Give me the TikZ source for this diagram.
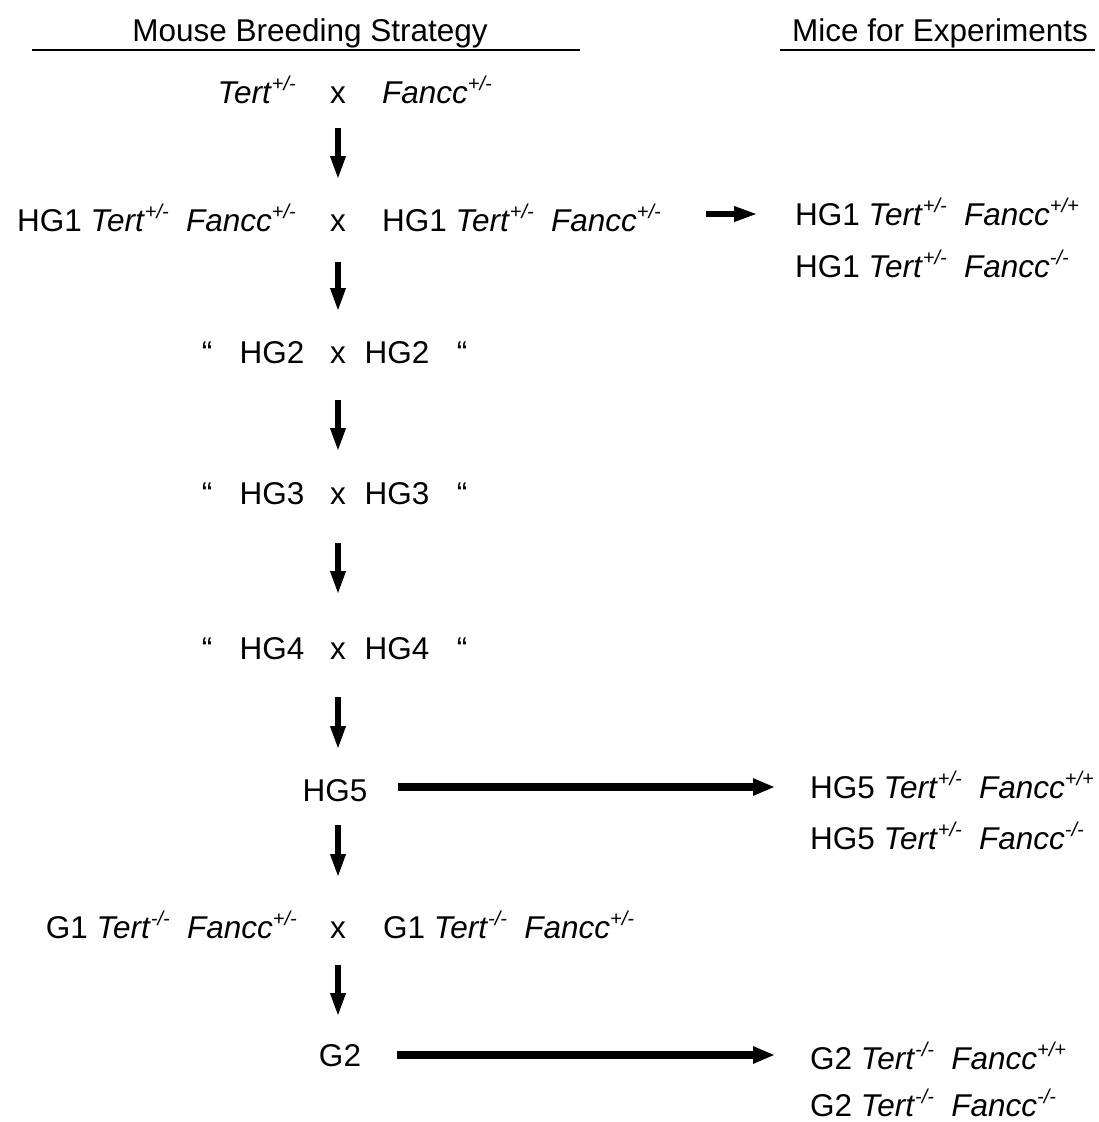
\documentclass[tikz,border=0pt]{standalone}
\usepackage{fontspec}
\setmainfont{Liberation Sans}
\usetikzlibrary{arrows.meta}
\newcommand{\gene}[2]{\textit{#1}\raisebox{0.42em}{\fontsize{20}{20}\selectfont\itshape #2}}

\begin{document}
\begin{tikzpicture}[x=1pt,y=-1pt,
    every node/.style={inner sep=0pt,text height=22.6pt,text depth=0pt,font=\fontsize{31.5}{37}\selectfont},
    varrow/.style={-{Triangle[length=24pt,width=14pt]},line width=6.5pt},
    harrow/.style={-{Triangle[length=22pt,width=16pt]},line width=8pt}]
  \useasboundingbox (0,0) rectangle (1098,1122);
  % headings
  \node (hbreed) at (310,30) {Mouse Breeding Strategy};
  \node (hmice) at (940,30) {Mice for Experiments};
  \draw[line width=2.2pt] (32,50) -- (580,50);
  \draw[line width=2.2pt] (780,50) -- (1095,50);
  % founders
  \node[anchor=east] (tert) at (296,92) {\gene{Tert}{+/-}};
  \node (x0) at (338,92) {x};
  \node[anchor=west] (fancc) at (382,92) {\gene{Fancc}{+/-}};
  % HG1
  \node[anchor=east] (hg1a) at (296,220) {HG1 \gene{Tert}{+/-}\hspace{0.55em}\gene{Fancc}{+/-}};
  \node (x1) at (338,220) {x};
  \node[anchor=west] (hg1b) at (382,220) {HG1 \gene{Tert}{+/-}\hspace{0.55em}\gene{Fancc}{+/-}};
  \node[anchor=west] (hg1c) at (795,214) {HG1 \gene{Tert}{+/-}\hspace{0.55em}\gene{Fancc}{+/+}};
  \node[anchor=west] (hg1d) at (795,266) {HG1 \gene{Tert}{+/-}\hspace{0.55em}\gene{Fancc}{-/-}};
  % HG2 to HG4
  \node (qa2) at (207,352) {``};
  \node (hga2) at (272,352) {HG2};
  \node (x2) at (338,352) {x};
  \node (hgb2) at (397,352) {HG2};
  \node (qb2) at (462,352) {``};
  \node (qa3) at (207,493) {``};
  \node (hga3) at (272,493) {HG3};
  \node (x3) at (338,493) {x};
  \node (hgb3) at (397,493) {HG3};
  \node (qb3) at (462,493) {``};
  \node (qa4) at (207,648) {``};
  \node (hga4) at (272,648) {HG4};
  \node (x4) at (338,648) {x};
  \node (hgb4) at (397,648) {HG4};
  \node (qb4) at (462,648) {``};
  % HG5
  \node (hg5) at (335,790) {HG5};
  \node[anchor=west] (hg5r) at (810,787) {HG5 \gene{Tert}{+/-}\hspace{0.55em}\gene{Fancc}{+/+}};
  \node[anchor=west] (hg5s) at (810,838) {HG5 \gene{Tert}{+/-}\hspace{0.55em}\gene{Fancc}{-/-}};
  % G1
  \node[anchor=east] (g1a) at (297,927) {G1 \gene{Tert}{-/-}\hspace{0.55em}\gene{Fancc}{+/-}};
  \node (x5) at (338,927) {x};
  \node[anchor=west] (g1b) at (383,927) {G1 \gene{Tert}{-/-}\hspace{0.55em}\gene{Fancc}{+/-}};
  % G2
  \node (g2) at (340,1055) {G2};
  \node[anchor=west] (g2r) at (810,1058) {G2 \gene{Tert}{-/-}\hspace{0.55em}\gene{Fancc}{+/+}};
  \node[anchor=west] (g2s) at (810,1105) {G2 \gene{Tert}{-/-}\hspace{0.55em}\gene{Fancc}{-/-}};
  % arrows
  \draw[varrow,shorten <=36pt,shorten >=40pt] (x0.center) -- (x1.center);
  \draw[varrow,shorten <=42pt,shorten >=40pt] (x1.center) -- (x2.center);
  \draw[varrow,shorten <=48pt,shorten >=41pt] (x2.center) -- (x3.center);
  \draw[varrow,shorten <=50pt,shorten >=53pt] (x3.center) -- (x4.center);
  \draw[varrow,shorten <=49pt,shorten >=40pt] (x4.center) -- (x4 |- hg5.center);
  \draw[varrow,shorten <=35pt,shorten >=49pt] (x4 |- hg5.center) -- (x5.center);
  \draw[varrow,shorten <=38pt,shorten >=38pt] (x5.center) -- (x5 |- g2.center);
  \draw[varrow,shorten <=45pt,shorten >=37pt] (hg1b.east |- hg1c.west) -- (hg1c.west);
  \draw[harrow,shorten <=30pt,shorten >=35pt] (hg5.east |- hg5r.west) -- (hg5r.west);
  \draw[harrow,shorten <=36pt,shorten >=35pt] (g2.east) -- (g2.east -| g2r.west);
\end{tikzpicture}
\end{document}
